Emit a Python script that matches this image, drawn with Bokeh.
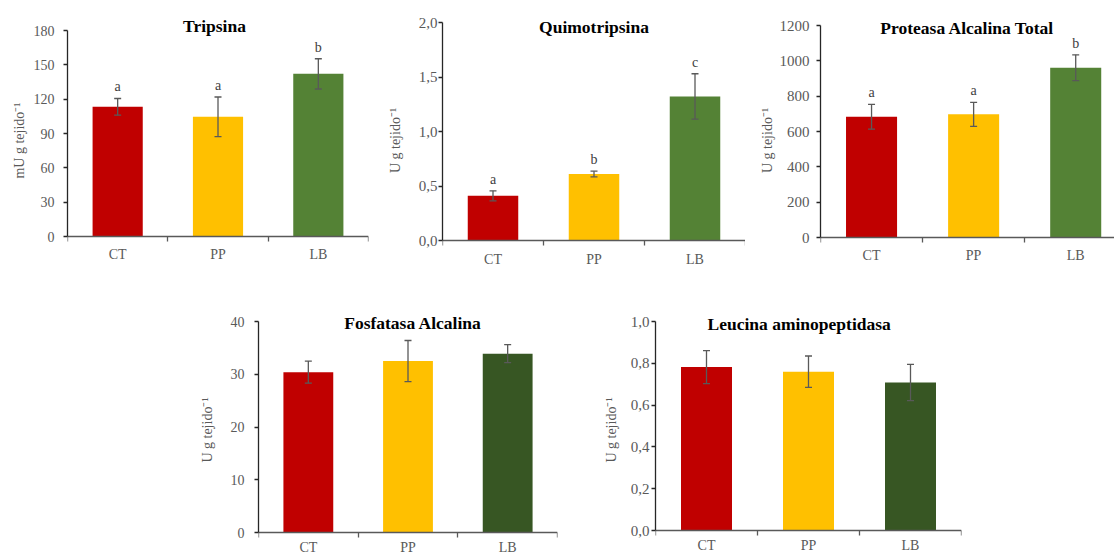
from bokeh.plotting import figure
from bokeh.models import (Range1d, FixedTicker, CustomJSTickFormatter, ColumnDataSource,
                          Whisker, TeeHead, Label, LabelSet, Spacer)
from bokeh.layouts import row, column
from bokeh.embed import file_html
from bokeh.resources import INLINE

# ---------------- data ----------------
categories = ["CT", "PP", "LB"]

tripsina_title = "Tripsina"
tripsina_mean = [113.3, 104.6, 142.1]
tripsina_err = [7.3, 17.3, 13.2]
tripsina_letters = ["a", "a", "b"]
tripsina_yticks = [0, 30, 60, 90, 120, 150, 180]

quimo_title = "Quimotripsina"
quimo_mean = [0.41, 0.61, 1.322]
quimo_err = [0.046, 0.026, 0.208]
quimo_letters = ["a", "b", "c"]
quimo_yticks = [0.0, 0.5, 1.0, 1.5, 2.0]

proteasa_title = "Proteasa Alcalina  Total"
proteasa_mean = [683, 697, 961]
proteasa_err = [70, 68, 73]
proteasa_letters = ["a", "a", "b"]
proteasa_yticks = [0, 200, 400, 600, 800, 1000, 1200]

fosfatasa_title = "Fosfatasa Alcalina"
fosfatasa_mean = [30.4, 32.5, 33.9]
fosfatasa_err = [2.1, 3.9, 1.7]
fosfatasa_letters = ["", "", ""]
fosfatasa_yticks = [0, 10, 20, 30, 40]

leucina_title = "Leucina  aminopeptidasa"
leucina_mean = [0.782, 0.760, 0.708]
leucina_err = [0.079, 0.075, 0.087]
leucina_letters = ["", "", ""]
leucina_yticks = [0.0, 0.2, 0.4, 0.6, 0.8, 1.0]

colors_top = ["#C00000", "#FFC000", "#548235"]
colors_bottom = ["#C00000", "#FFC000", "#375623"]

label_mu = "mU g tejido\u207b\u00b9"
label_u = "U g tejido\u207b\u00b9"

# ---------------- styling ----------------
FONT = "Liberation Serif"
GREY = "#595959"
DARK = "#262626"


def make_chart(title, means, errs, letters, yticks, colors, ylabel, decimals, cfg):
    ymax = yticks[-1]
    fh = cfg["h"] - cfg["bt"] - cfg["bb"]           # frame height in px
    T = cfg["bt"]                                    # frame top (px, figure coords)
    B = cfg["bt"] + fh                               # frame bottom
    s = (cfg["p0"] - cfg["ptop"]) / ymax             # px per data unit
    y0 = -(B - cfg["p0"]) / s
    y1 = ymax + (cfg["ptop"] - T) / s

    p = figure(width=cfg["w"], height=cfg["h"], output_backend="svg", toolbar_location=None,
               x_range=Range1d(0, cfg["xend"]), y_range=Range1d(y0, y1),
               min_border_left=cfg["bl"], min_border_right=cfg["br"],
               min_border_top=cfg["bt"], min_border_bottom=cfg["bb"])
    p.outline_line_color = None
    p.xgrid.visible = False
    p.ygrid.visible = False
    p.background_fill_color = "white"
    p.border_fill_color = "white"

    xs = [i + 0.5 for i in range(len(categories))]
    src = ColumnDataSource(dict(
        x=xs, top=means,
        upper=[m + e for m, e in zip(means, errs)],
        lower=[m - e for m, e in zip(means, errs)],
        color=colors, letter=letters))

    p.vbar(x="x", top="top", bottom=0, width=0.5, fill_color="color", line_color=None, source=src)

    wh = Whisker(base="x", upper="upper", lower="lower", source=src,
                 line_color=GREY, line_width=1.3, level="overlay",
                 upper_head=TeeHead(size=7, line_color=GREY, line_width=1.3),
                 lower_head=TeeHead(size=7, line_color=GREY, line_width=1.3))
    p.add_layout(wh)

    if any(letters):
        ls = LabelSet(x="x", y="upper", text="letter", source=src, y_offset=4,
                      text_align="center", text_baseline="bottom",
                      text_font=FONT, text_font_size="14px", text_color="#404040")
        p.add_layout(ls)

    ttl = Label(x=cfg["tx"], y=ymax, y_offset=cfg["ty"], text=title,
                text_align="center", text_baseline="middle", text_font=FONT,
                text_font_style="bold", text_font_size="17.5px", text_color="black")
    p.add_layout(ttl)

    # x axis (drawn at y = 0)
    xa = p.xaxis[0]
    xa.fixed_location = 0
    xa.ticker = FixedTicker(ticks=xs, minor_ticks=[0, 1, 2, 3])
    xa.formatter = CustomJSTickFormatter(args=dict(cats=categories),
                                         code="return cats[Math.floor(tick)]")
    xa.major_tick_out = 0
    xa.major_tick_in = 0
    xa.minor_tick_out = 5
    xa.minor_tick_in = 0
    xa.minor_tick_line_color = GREY
    xa.minor_tick_line_width = 1.3
    xa.axis_line_color = GREY
    xa.axis_line_width = 1.3
    xa.major_label_standoff = cfg["xso"]
    xa.major_label_text_font = FONT
    xa.major_label_text_font_size = "14px"
    xa.major_label_text_color = GREY

    # y axis
    ya = p.yaxis[0]
    ya.bounds = (0, ymax)
    ya.ticker = FixedTicker(ticks=yticks, minor_ticks=[])
    if decimals:
        ya.formatter = CustomJSTickFormatter(
            code="return tick.toFixed(%d).replace('.', ',')" % decimals)
    else:
        ya.formatter = CustomJSTickFormatter(code="return tick.toFixed(0)")
    ya.major_tick_out = 4
    ya.major_tick_in = 0
    ya.minor_tick_out = 0
    ya.minor_tick_in = 0
    ya.axis_line_color = DARK
    ya.axis_line_width = 1.3
    ya.major_tick_line_color = DARK
    ya.major_tick_line_width = 1.3
    ya.major_label_standoff = cfg["yso"]
    ya.major_label_text_font = FONT
    ya.major_label_text_font_size = cfg["yfs"]
    ya.major_label_text_color = GREY
    ya.axis_label = ylabel
    ya.axis_label_standoff = cfg["als"]
    ya.axis_label_text_font = FONT
    ya.axis_label_text_font_style = "normal"
    ya.axis_label_text_font_size = "14px"
    ya.axis_label_text_color = GREY
    return p


# layout configs (pixel positions are relative to each figure's canvas)
R1 = dict(h=270, bt=10, bb=0)
R2 = dict(h=289, bt=30, bb=0)
cfg1 = dict(R1, w=370, bl=67, br=2, xend=3, ptop=30, p0=236, tx=1.465, ty=5,
            xso=5, yso=9, yfs="14px", als=4)
cfg2 = dict(R1, w=375, bl=72, br=0, xend=3, ptop=22, p0=240, tx=1.5, ty=-4,
            xso=6, yso=1, yfs="15px", als=13)
cfg3 = dict(R1, w=369, bl=75, br=0, xend=2.88, ptop=25, p0=237, tx=1.46, ty=-2,
            xso=5, yso=7, yfs="15px", als=2)
cfg4 = dict(R2, w=373, bl=70, br=4, xend=3, ptop=321 - 270, p0=532 - 270, tx=1.55, ty=-1,
            xso=2, yso=10, yfs="14px", als=13)
cfg5 = dict(R2, w=386, bl=75, br=5, xend=3, ptop=321 - 270, p0=530 - 270, tx=1.43, ty=-2,
            xso=2, yso=2, yfs="15px", als=9)

f1 = make_chart(tripsina_title, tripsina_mean, tripsina_err, tripsina_letters,
                tripsina_yticks, colors_top, label_mu, 0, cfg1)
f2 = make_chart(quimo_title, quimo_mean, quimo_err, quimo_letters,
                quimo_yticks, colors_top, label_u, 1, cfg2)
f3 = make_chart(proteasa_title, proteasa_mean, proteasa_err, proteasa_letters,
                proteasa_yticks, colors_top, label_u, 0, cfg3)
f4 = make_chart(fosfatasa_title, fosfatasa_mean, fosfatasa_err, fosfatasa_letters,
                fosfatasa_yticks, colors_bottom, label_u, 0, cfg4)
f5 = make_chart(leucina_title, leucina_mean, leucina_err, leucina_letters,
                leucina_yticks, colors_bottom, label_u, 1, cfg5)

layout = column(
    row(f1, f2, f3),
    row(Spacer(width=188, height=289), f4, Spacer(width=19, height=289), f5),
)

open("out.html", "w").write(file_html(layout, INLINE))
